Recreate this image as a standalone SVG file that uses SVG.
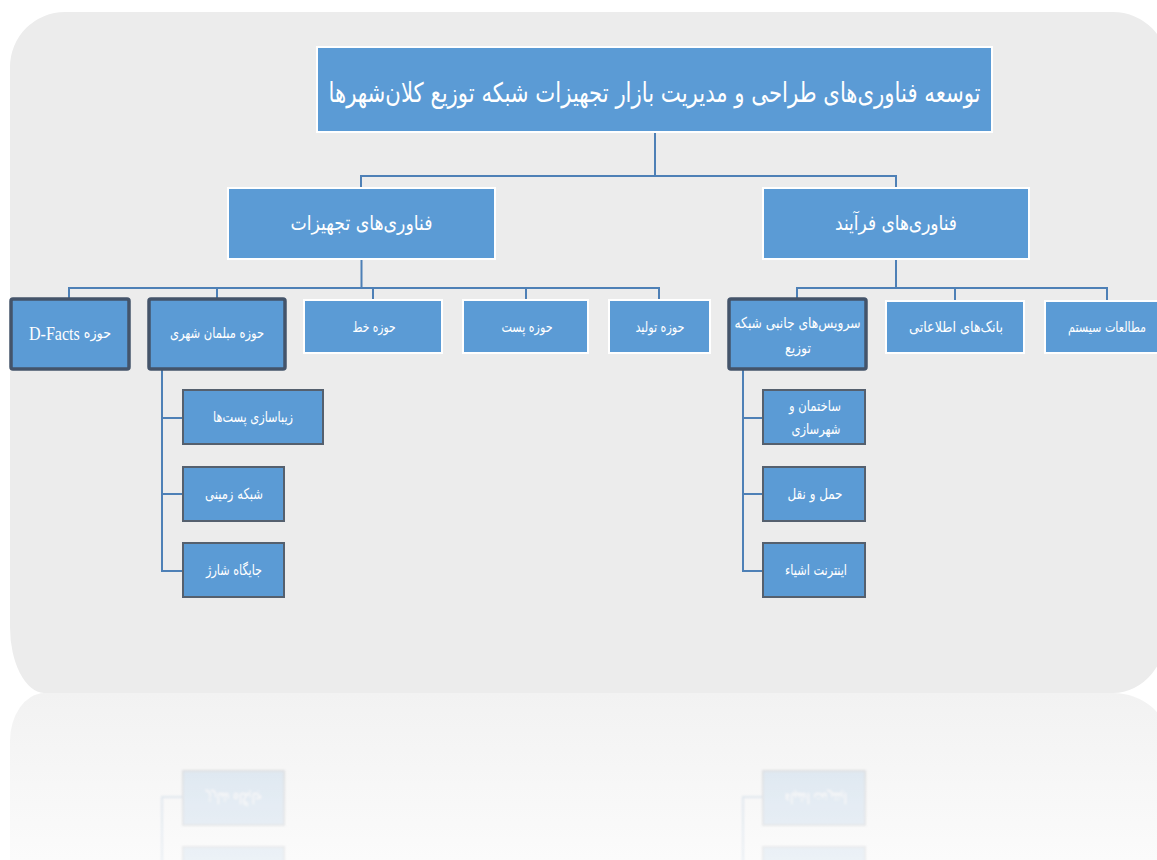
<svg xmlns="http://www.w3.org/2000/svg" xmlns:xlink="http://www.w3.org/1999/xlink" width="1157" height="860" viewBox="0 0 1157 860">
  <style>
    .box { fill: #5b9bd5; stroke: #ffffff; stroke-width: 2; }
    .box-strong { fill: #5b9bd5; stroke: #44546a; stroke-width: 3.5; }
    .box-sub { fill: #5b9bd5; stroke: #55606e; stroke-width: 2; }
    .lbl { fill: #ffffff; font-family: "DejaVu Sans", sans-serif; text-anchor: middle; dominant-baseline: central; direction: rtl; unicode-bidi: embed; }
    .t1 { font-size: 27px; }
    .t2 { font-size: 20px; }
    .t3 { font-size: 15px; }
    .lat { font-family: "Liberation Serif", serif; font-size: 19px; }
    .link { fill: none; stroke: #4e80b6; stroke-width: 2; }
  </style>
  <defs>
    <linearGradient id="floorFade" x1="0" y1="0" x2="0" y2="1">
      <stop offset="0" stop-color="#f2f2f2"/>
      <stop offset="1" stop-color="#fbfbfb"/>
    </linearGradient>
    <linearGradient id="mirrorFade" gradientUnits="userSpaceOnUse" x1="0" y1="684" x2="0" y2="900">
      <stop offset="0" stop-color="#ffffff" stop-opacity="0.2"/>
      <stop offset="1" stop-color="#ffffff" stop-opacity="0.07"/>
    </linearGradient>
    <mask id="mirrorMask" maskUnits="userSpaceOnUse" x="0" y="684" width="1157" height="200">
      <rect x="0" y="684" width="1157" height="200" fill="url(#mirrorFade)"/>
    </mask>
    <filter id="soft" x="-5%" y="-5%" width="110%" height="110%">
      <feGaussianBlur stdDeviation="1"/>
    </filter>
  </defs>

  <rect width="1157" height="860" fill="#ffffff"/>

  <!-- backdrop panel -->
  <path d="M65,12 H1113 A55,55 0 0 1 1168,67 V627 A55,66 0 0 1 1113,693 H44 A35,66 0 0 1 10,627 V67 A55,55 0 0 1 65,12 Z" fill="#ececec"/>

  <!-- mirrored floor -->
  <path d="M44,693 H1113 A55,48 0 0 1 1168,741 V860 H10 V741 A35,48 0 0 1 44,693 Z" fill="url(#floorFade)"/>

  <g id="tree">
    <g id="connectors">
      <path class="link" d="M655,132 V176 M361,188 V176 H896 V188"/>
      <path class="link" d="M361.5,259 V288 M69,299 V288 H659 V300 M217,288 V299 M373,288 V300 M526,288 V300"/>
      <path class="link" d="M896,259 V288 M797,299 V288 H1107 V301 M955,288 V301"/>
      <path class="link" d="M162,369 V571 H183 M162,418 H183 M162,494 H183"/>
      <path class="link" d="M743,369 V571 H763 M743,418 H763 M743,494 H763"/>
    </g>

    <g id="n-root">
      <rect class="box" x="317" y="47" width="675" height="85"/>
      <text class="lbl t1" x="654.5" y="92" textLength="652" lengthAdjust="spacingAndGlyphs">توسعه فناوری‌های طراحی و مدیریت بازار تجهیزات شبکه توزیع کلان‌شهرها</text>
    </g>

    <g id="n-equipment">
      <rect class="box" x="228" y="188" width="267" height="71"/>
      <text class="lbl t2" x="361.5" y="223" textLength="142" lengthAdjust="spacingAndGlyphs">فناوری‌های تجهیزات</text>
    </g>
    <g id="n-process">
      <rect class="box" x="763" y="188" width="266" height="71"/>
      <text class="lbl t2" x="896" y="223" textLength="122" lengthAdjust="spacingAndGlyphs">فناوری‌های فرآیند</text>
    </g>

    <g id="n-dfacts">
      <rect class="box-strong" x="11" y="299" width="118" height="70" rx="2"/>
      <text class="lbl t3" x="70" y="333" textLength="82" lengthAdjust="spacingAndGlyphs">حوزه <tspan class="lat">D-Facts</tspan></text>
    </g>
    <g id="n-furniture">
      <rect class="box-strong" x="149" y="299" width="136" height="70" rx="2"/>
      <text class="lbl t3" x="217" y="333" textLength="94" lengthAdjust="spacingAndGlyphs">حوزه مبلمان شهری</text>
    </g>
    <g id="n-line">
      <rect class="box" x="304" y="300" width="138" height="53"/>
      <text class="lbl t3" x="374" y="327" textLength="43" lengthAdjust="spacingAndGlyphs">حوزه خط</text>
    </g>
    <g id="n-substation">
      <rect class="box" x="463" y="300" width="125" height="53"/>
      <text class="lbl t3" x="527" y="327" textLength="51" lengthAdjust="spacingAndGlyphs">حوزه پست</text>
    </g>
    <g id="n-generation">
      <rect class="box" x="609" y="300" width="101" height="53"/>
      <text class="lbl t3" x="660" y="327" textLength="49" lengthAdjust="spacingAndGlyphs">حوزه تولید</text>
    </g>
    <g id="n-services">
      <rect class="box-strong" x="729" y="299" width="137" height="70" rx="2"/>
      <text class="lbl t3" x="797.5" y="323" textLength="126" lengthAdjust="spacingAndGlyphs">سرویس‌های جانبی شبکه</text>
      <text class="lbl t3" x="798" y="348" textLength="26" lengthAdjust="spacingAndGlyphs">توزیع</text>
    </g>
    <g id="n-databanks">
      <rect class="box" x="886" y="301" width="138" height="52"/>
      <text class="lbl t3" x="956" y="327" textLength="94" lengthAdjust="spacingAndGlyphs">بانک‌های اطلاعاتی</text>
    </g>
    <g id="n-studies">
      <rect class="box" x="1045" y="301" width="124" height="52"/>
      <text class="lbl" x="1107" y="327" font-size="14" textLength="78" lengthAdjust="spacingAndGlyphs">مطالعات سیستم</text>
    </g>

    <g id="n-beautify">
      <rect class="box-sub" x="183" y="390" width="140" height="54"/>
      <text class="lbl t3" x="253" y="417" textLength="80" lengthAdjust="spacingAndGlyphs">زیباسازی پست‌ها</text>
    </g>
    <g id="n-underground">
      <rect class="box-sub" x="183" y="467" width="101" height="54"/>
      <text class="lbl t3" x="234" y="494" textLength="58" lengthAdjust="spacingAndGlyphs">شبکه زمینی</text>
    </g>
    <g id="n-charging">
      <rect class="box-sub" x="183" y="543" width="101" height="54"/>
      <text class="lbl t3" x="234" y="570" textLength="56" lengthAdjust="spacingAndGlyphs">جایگاه شارژ</text>
    </g>

    <g id="n-building">
      <rect class="box-sub" x="763" y="390" width="102" height="54"/>
      <text class="lbl t3" x="815" y="406" textLength="52" lengthAdjust="spacingAndGlyphs">ساختمان و</text>
      <text class="lbl t3" x="816" y="429" textLength="49" lengthAdjust="spacingAndGlyphs">شهرسازی</text>
    </g>
    <g id="n-transport">
      <rect class="box-sub" x="763" y="467" width="102" height="54"/>
      <text class="lbl t3" x="815" y="494" textLength="55" lengthAdjust="spacingAndGlyphs">حمل و نقل</text>
    </g>
    <g id="n-iot">
      <rect class="box-sub" x="763" y="543" width="102" height="54"/>
      <text class="lbl t3" x="816" y="570" textLength="62" lengthAdjust="spacingAndGlyphs">اینترنت اشیاء</text>
    </g>
  </g>

  <!-- faded reflection of the lower branches -->
  <g mask="url(#mirrorMask)" filter="url(#soft)">
    <use xlink:href="#tree" href="#tree" transform="matrix(1,0,0,-1,0,1368)"/>
  </g>
</svg>
